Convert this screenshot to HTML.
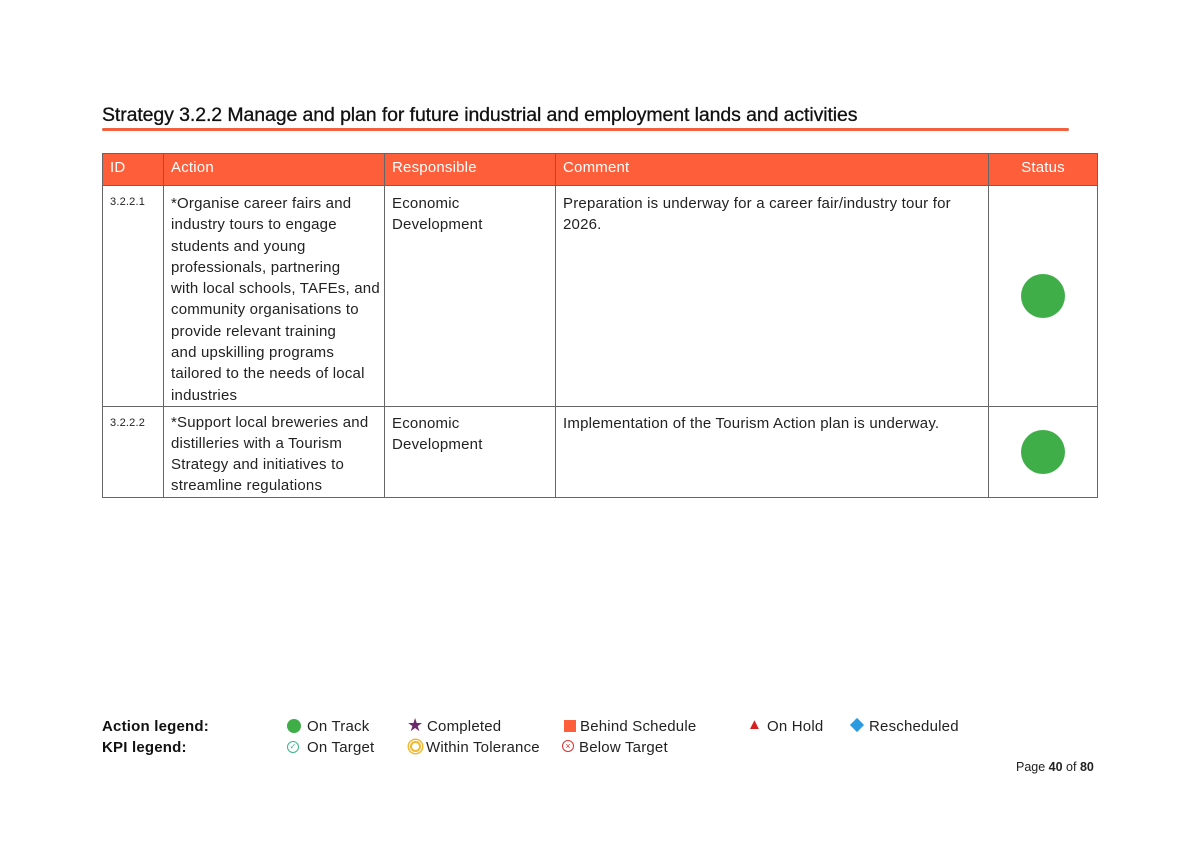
<!DOCTYPE html>
<html><head><style>
body{margin:0;width:1194px;height:844px;background:#fff;font-family:"Liberation Sans",sans-serif;color:#222;position:relative;overflow:hidden}
.a{position:absolute;white-space:nowrap}
h1{position:absolute;left:102px;top:104px;margin:0;font-size:19.5px;font-weight:normal;color:#111;letter-spacing:-0.1px;white-space:nowrap;-webkit-text-stroke:0.3px #111}
.ul{position:absolute;left:102px;top:128px;width:967px;height:3px;background:#f26040;border-radius:2px}
table{position:absolute;left:102px;top:153px;border-collapse:collapse;font-size:15px;letter-spacing:0.2px;table-layout:fixed;width:995px}
td,th{border:1px solid #666;vertical-align:top;padding:0 7px;line-height:21.3px;white-space:nowrap;overflow:hidden}
th{background:#fe5e3a;color:#fff;font-weight:normal;text-align:left;height:32px;padding:0 7px 3px;line-height:20px;vertical-align:middle;box-sizing:border-box}
td.id{font-size:11px;padding-top:9px;line-height:14px}
.dot{width:44px;height:44px;border-radius:50%;background:#3fae49;margin:0 auto}
.leg{font-size:15px;letter-spacing:0.2px}
</style></head><body>
<h1>Strategy 3.2.2 Manage and plan for future industrial and employment lands and activities</h1>
<div class="ul"></div>
<table>
<colgroup><col style="width:61px"><col style="width:221px"><col style="width:171px"><col style="width:433px"><col style="width:109px"></colgroup>
<tr style="height:32px"><th>ID</th><th>Action</th><th>Responsible</th><th>Comment</th><th style="text-align:center">Status</th></tr>
<tr style="height:219px"><td class="id">3.2.2.1</td><td style="padding-top:7px">*Organise career fairs and<br>industry tours to engage<br>students and young<br>professionals, partnering<br>with local schools, TAFEs, and<br>community organisations to<br>provide relevant training<br>and upskilling programs<br>tailored to the needs of local<br>industries</td><td style="padding-top:7px">Economic<br>Development</td><td style="padding-top:7px">Preparation is underway for a career fair/industry tour for<br>2026.</td><td style="vertical-align:middle"><div class="dot"></div></td></tr>
<tr style="height:91px"><td class="id">3.2.2.2</td><td style="padding-top:5px;line-height:21px">*Support local breweries and<br>distilleries with a Tourism<br>Strategy and initiatives to<br>streamline regulations</td><td style="padding-top:6px">Economic<br>Development</td><td style="padding-top:6px">Implementation of the Tourism Action plan is underway.</td><td style="vertical-align:top;padding-top:23px"><div class="dot"></div></td></tr>
</table>
<div class="a leg" style="left:102px;top:718px;font-weight:bold;color:#111">Action legend:</div>
<div class="a leg" style="left:102px;top:739px;font-weight:bold;color:#111">KPI legend:</div>
<div class="a" style="left:287px;top:719px;width:14px;height:14px;border-radius:50%;background:#3fae49"></div>
<div class="a leg" style="left:307px;top:718px">On Track</div>
<div class="a" style="left:407px;top:715px;color:#6b2a6b;font-size:18px">★</div>
<div class="a leg" style="left:427px;top:718px">Completed</div>
<div class="a" style="left:564px;top:720px;width:12px;height:12px;background:#fe5e3a"></div>
<div class="a leg" style="left:580px;top:718px">Behind Schedule</div>
<div class="a" style="left:747px;top:716px;color:#d82020;font-size:15px">▲</div>
<div class="a leg" style="left:767px;top:718px">On Hold</div>
<div class="a" style="left:852px;top:720px;width:10px;height:10px;background:#2b9be0;transform:rotate(45deg)"></div>
<div class="a leg" style="left:869px;top:718px">Rescheduled</div>
<div class="a" style="left:287px;top:741px;width:10px;height:10px;border:1.5px solid #3cb58a;border-radius:50%;color:#3cb58a;font-size:8px;line-height:10px;text-align:center">✓</div>
<div class="a leg" style="left:307px;top:739px">On Target</div>
<div class="a" style="left:410px;top:741px;width:7px;height:7px;border:2px solid #f3b935;border-radius:50%;box-shadow:0 0 0 1px #fff,0 0 0 2.5px #f3b935"></div>
<div class="a leg" style="left:426px;top:739px">Within Tolerance</div>
<div class="a" style="left:562px;top:740px;width:10px;height:10px;border:1.5px solid #e03030;border-radius:50%;color:#e03030;font-size:9px;line-height:10px;text-align:center">×</div>
<div class="a leg" style="left:579px;top:739px">Below Target</div>
<div class="a" style="left:1016px;top:760px;font-size:12.5px">Page <b>40</b> of <b>80</b></div>
</body></html>
